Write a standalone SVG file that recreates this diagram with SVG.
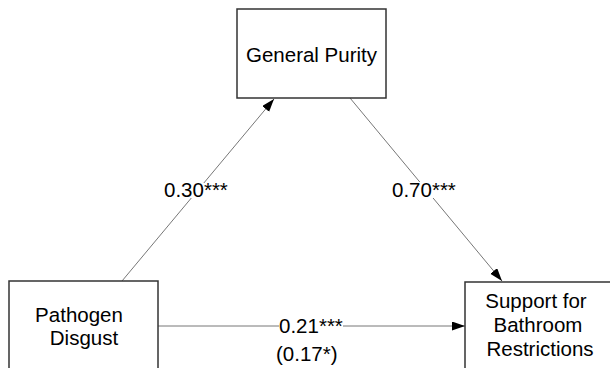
<svg xmlns="http://www.w3.org/2000/svg" width="610" height="368" viewBox="0 0 610 368">
<defs>
<style>
.box{fill:#fff;stroke:#333;stroke-width:1.5}
.t{font-family:"Liberation Sans",Arial,sans-serif;font-size:20.5px;fill:#000}
.c{stroke:#777;stroke-width:1;fill:none}
.bg{fill:#fff}
</style>
<marker id="ah" markerUnits="userSpaceOnUse" markerWidth="14" markerHeight="10" refX="13" refY="4.5" orient="auto">
<path d="M0,0 L13,4.5 L0,9 z" fill="#000"/>
</marker>
</defs>
<rect width="610" height="368" fill="#fff"/>
<g id="connectors">
<line class="c" x1="122" y1="281" x2="274" y2="99" marker-end="url(#ah)"/>
<line class="c" x1="350" y1="98" x2="502" y2="281" marker-end="url(#ah)"/>
<line class="c" x1="158" y1="326" x2="465" y2="326" marker-end="url(#ah)"/>
<rect class="bg" x="164" y="183" width="66" height="15"/>
<text class="t" x="164" y="197">0.30***</text>
<rect class="bg" x="392" y="182" width="66" height="16"/>
<text class="t" x="392" y="197">0.70***</text>
<rect class="bg" x="279" y="318" width="64" height="16"/>
<text class="t" x="279" y="333">0.21***</text>
<text class="t" x="276" y="361">(0.17*)</text>
</g>
<g id="general-purity">
<rect class="box" x="237" y="9" width="149" height="89"/>
<text class="t" x="311.5" y="62" text-anchor="middle">General Purity</text>
</g>
<g id="pathogen-disgust">
<rect class="box" x="9" y="281" width="149" height="100"/>
<text class="t" x="79" y="322" text-anchor="middle">Pathogen</text>
<text class="t" x="84" y="345" text-anchor="middle">Disgust</text>
</g>
<g id="support">
<rect class="box" x="465" y="282" width="160" height="100"/>
<text class="t" x="536" y="308" text-anchor="middle">Support for</text>
<text class="t" x="538" y="332" text-anchor="middle">Bathroom</text>
<text class="t" x="540" y="356" text-anchor="middle">Restrictions</text>
</g>
</svg>
